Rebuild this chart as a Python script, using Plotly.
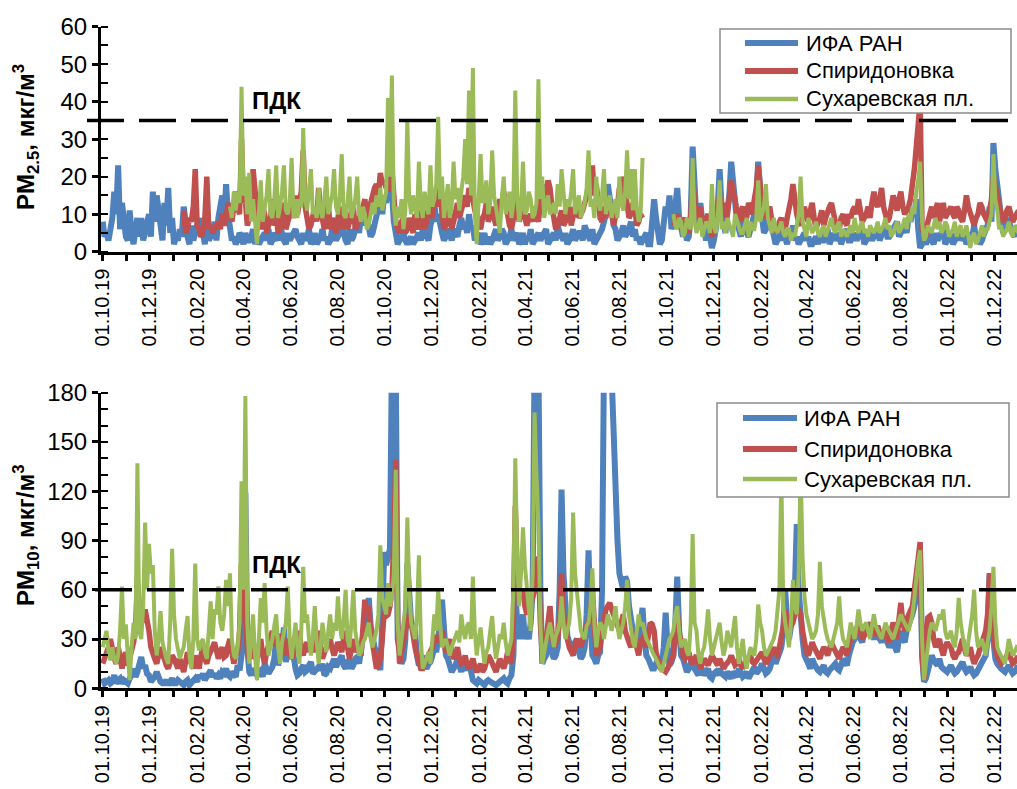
import pandas as pd
import plotly.graph_objects as go

# Observation series: 2.5-day steps starting 01.10.2019
series_start = "2019-10-01"
series_step = "60h"

station_names = ["ИФА РАН", "Спиридоновка", "Сухаревская пл."]
station_colors = ["#4F81BD", "#C0504D", "#9BBB59"]

N = None

# PM2.5, мкг/м3
ifa_pm25 = [
    8, 4, 5, 3, 6, 9, 16, 10, 23, 6, 13, 8, 4, 3, 11, 5, 2, 6, 9, 4,
    9, 3, 5, 7, 10, 4, 16, 8, 15, 11, 6, 3, 13, 7, 17, 5, 9, 2, 4, 3,
    6, 4, 12, 6, 4, 2, 7, 3, 5, 7, 9, 4, 5, 2, 7, 3, 4, 5, 8, 3,
    9, 12, 15, 8, 18, 10, 6, 3, 4, 2, 3, 5, 4, 2, 5, 3, 3, 4, 6, 2,
    4, 2, 3, 4, 5, 3, 6, 2, 3, 5, 4, 3, 7, 4, 3, 2, 5, 3, 4, 5,
    6, 4, 3, 2, 5, 3, 4, 6, 2, 3, 5, 2, 3, 4, 6, 3, 4, 2, 3, 6,
    5, 3, 4, 5, 7, 4, 3, 2, 6, 3, 4, 6, 8, 5, 10, 7, 13, 9, 6, 4,
    5, 7, 9, 12, 14, 10, 15, 13, 17, 14, 16, 8, 4, 2, 3, 4, 5, 3, 2, 3,
    4, 2, 3, 4, 5, 3, 6, 5, 4, 3, 7, 9, 13, 8, 10, 6, 5, 3, 4, 6,
    5, 3, 6, 5, 4, 7, 9, 6, 8, 5, 10, 6, 7, 3, 4, 5, 2, 3, 5, 2,
    4, 2, 3, 5, 6, 3, 4, 6, 5, 2, 3, 4, 6, 3, 4, 5, 2, 3, 5, 2,
    4, 3, 6, 2, 3, 4, 5, 3, 4, 5, 6, 2, 3, 4, 5, 3, 7, 5, 4, 3,
    5, 2, 3, 4, 6, 3, 4, 5, 5, 3, 7, 5, 4, 3, 6, 2, 3, 4, 5, 6,
    8, 10, 18, 14, 12, 7, 6, 3, 4, 5, 7, 4, 5, 6, 8, 4, 6, 3, 4, 2,
    3, 4, 5, 2, 2, 8, 14, 9, 6, 2, 3, 7, 12, 10, 15, 6, 8, 12, 17, 9,
    5, 4, 7, 3, 4, 10, 28, 12, 8, 6, 13, 8, 5, 3, 7, 4, 1, 3, 6, 12,
    22, 12, 8, 5, 11, 15, 24, 17, 13, 8, 6, 4, 9, 6, 5, 4, 7, 8, 10, 14,
    24, 14, 9, 5, 6, 8, 11, 7, 5, 2, 3, 4, 6, 3, 4, 2, 5, 4, 7, 3,
    4, 2, 3, 4, 5, 3, 4, 2, 2, 3, 4, 2, 5, 3, 3, 4, 6, 2, 4, 5,
    3, 4, 5, 2, 4, 5, 6, 3, 3, 4, 5, 3, 4, 5, 6, 2, 3, 4, 5, 3,
    4, 5, 6, 3, 5, 6, 7, 4, 4, 5, 6, 7, 8, 4, 5, 6, 7, 5, 9, 8,
    11, 10, 14, 6, 1, 2, 3, 2, 4, 5, 3, 2, 5, 3, 4, 5, 6, 2, 3, 4,
    5, 2, 3, 4, 6, 3, 4, 5, 2, 3, 5, 4, 7, 3, 4, 2, 3, 5, 6, 7,
    12, 8, 29, 22, 18, 12, 8, 5, 6, 8, 9, 6, 5, 4, 7, 6,
]

spir_pm25 = [
    N, N, N, N, N, N, N, N, N, N, N, N, N, N, N, N, N, N, N, N,
    N, N, N, N, N, N, N, N, N, N, N, N, N, N, N, N, N, N, N, N,
    N, N, 11, 5, 6, 9, 8, 12, 22, 7, 6, 4, 5, 9, 20, 6, 7, 5, 6, 7,
    8, 6, 10, 7, 9, 13, 11, 8, 12, 16, 12, 10, 30, 13, 14, 7, 9, 12, 22, 15,
    11, 8, 6, 12, 10, 5, 7, 9, 14, 7, 9, 5, 6, 13, 11, 6, 8, 10, 12, 9,
    15, 10, 13, 16, 27, 12, 9, 6, 7, 10, 12, 8, 17, 11, 8, 6, 10, 13, 6, 9,
    7, 5, 9, 12, 6, 8, 11, 6, 8, 10, 12, 6, 7, 9, 10, 12, 14, 8, 9, 13,
    16, 17, 18, 15, 21, 18, 19, 17, 20, 16, 22, 12, 8, 6, 5, 8, 9, 5, 6, 9,
    7, 5, 10, 8, 6, 9, 12, 6, 8, 13, 11, 9, 16, 12, 19, 14, 9, 6, 7, 11,
    10, 6, 8, 11, 13, 9, 11, 14, 15, 12, 17, 15, 14, 11, 9, 7, 6, 9, 10, 13,
    8, 10, 12, 9, 7, 11, 14, 12, 16, 13, 9, 7, 6, 9, 11, 14, 8, 10, 13, 9,
    7, 9, 10, 8, 12, 10, 8, 13, 18, 14, 15, 19, 17, 12, 9, 6, 7, 10, 11, 7,
    8, 10, 12, 7, 9, 12, 14, 9, 10, 11, 13, 15, 16, 18, 23, 15, 18, 11, 9, 8,
    12, 9, 15, 13, 11, 7, 9, 12, 17, 14, 20, 16, 14, 9, 10, 13, 12, 7, 8, 10,
    9, N, N, N, N, N, N, N, N, N, N, N, N, N, N, N, 7, 8, 10, 7,
    6, 8, 9, 6, 5, 9, 21, 13, 9, 10, 12, 7, 8, 9, 10, 6, 4, 7, 9, 12,
    15, 11, 13, 9, 10, 14, 19, 16, 14, 10, 8, 11, 12, 8, 9, 13, 11, 10, 14, 17,
    23, 16, 13, 10, 9, 11, 12, 8, 7, 6, 5, 8, 9, 7, 6, 9, 11, 14, 18, 12,
    10, 8, 7, 10, 12, 9, 8, 11, 13, 9, 6, 8, 9, 11, 7, 9, 11, 12, 13, 10,
    8, 7, 6, 9, 10, 8, 7, 10, 9, 11, 12, 10, 14, 11, 8, 9, 10, 12, 9, 13,
    16, 13, 12, 14, 17, 12, 10, 8, 9, 12, 15, 13, 11, 14, 16, 12, 10, 11, 12, 14,
    17, 22, 28, 33, 40, 6, 5, 4, 8, 10, 12, 9, 11, 13, 8, 10, 13, 9, 10, 11,
    12, 10, 9, 12, 11, 9, 8, 11, 15, 12, 10, 8, 7, 9, 10, 13, 12, 10, 9, 8,
    11, 14, 20, 17, 15, 12, 10, 8, 9, 11, 12, 10, 8, 9, 10, 11,
]

such_pm25 = [
    N, N, N, N, N, N, N, N, N, N, N, N, N, N, N, N, N, N, N, N,
    N, N, N, N, N, N, N, N, N, N, N, N, N, N, N, N, N, N, N, N,
    N, N, N, N, N, N, N, N, N, N, N, N, N, N, N, N, N, N, N, N,
    N, N, N, N, N, N, 12, 9, 16, 11, 16, 13, 44, 15, 20, 10, 21, 8, 14, 6,
    2, 10, 19, 8, 12, 15, 22, 10, 9, 14, 23, 9, 12, 16, 23, 11, 10, 13, 25, 9,
    14, 9, 14, 12, 33, 14, 11, 16, 22, 10, 12, 9, 17, 11, 9, 14, 20, 10, 13, 15,
    22, 12, 10, 15, 26, 10, 9, 13, 20, 9, 11, 14, 20, 10, 8, 12, 10, 6, 7, 11,
    13, 10, 15, 12, 17, 11, 14, 16, 41, 20, 47, 12, 7, 12, 9, 14, 6, 11, 35, 14,
    10, 15, 12, 9, 24, 13, 9, 16, 12, 10, 23, 12, 14, 18, 36, 14, 20, 9, 13, 18,
    9, 12, 24, 14, 17, 11, 16, 20, 30, 18, 43, 15, 49, 10, 2, 12, 26, 13, 14, 19,
    10, 13, 27, 15, 12, 9, 5, 14, 20, 10, 12, 16, 9, 13, 43, 15, 8, 12, 24, 10,
    11, 16, 14, 9, 10, 13, 46, 14, 20, 9, 12, 15, 10, 11, 13, 10, 18, 12, 22, 14,
    10, 14, 12, 16, 22, 10, 12, 15, 9, 11, 13, 17, 27, 12, 14, 9, 20, 13, 11, 15,
    22, 10, 12, 15, 9, 12, 14, 9, 20, 13, 11, 16, 27, 14, 22, 11, 22, 12, 8, 10,
    25, N, N, N, N, N, N, N, N, N, N, N, N, N, N, N, 10, 7, 6, 9,
    8, 4, 5, 9, 7, 6, 25, 8, 5, 7, 9, 4, 6, 8, 7, 5, 18, 7, 5, 9,
    19, 6, 8, 5, 9, 7, 6, 4, 10, 8, 7, 5, 5, 7, 9, 4, 8, 6, 6, 9,
    19, 8, 10, 12, 18, 9, 7, 5, 9, 6, 5, 7, 8, 5, 4, 6, 6, 3, 5, 4,
    7, 10, 20, 8, 6, 4, 9, 7, 5, 6, 8, 5, 4, 6, 7, 4, 6, 8, 9, 6,
    5, 7, 8, 4, 6, 5, 4, 6, 7, 5, 9, 6, 5, 7, 8, 5, 6, 4, 7, 6,
    5, 6, 8, 5, 6, 7, 9, 6, 7, 4, 5, 7, 8, 5, 6, 7, 9, 6, 10, 8,
    12, 10, 16, 19, 24, 8, 3, 4, 7, 6, 5, 7, 9, 6, 8, 5, 6, 8, 7, 4,
    5, 6, 8, 4, 6, 7, 4, 5, 7, 3, 1, 4, 5, 2, 3, 5, 7, 4, 6, 6,
    8, 10, 26, 14, 11, 6, 7, 4, 5, 6, 8, 5, 4, 7, 6, 5,
]

# PM10, мкг/м3
ifa_pm10 = [
    6, 3, 4, 5, 3, 4, 8, 3, 5, 6, 3, 5, 4, 3, 6, 8, 12, 7, 10, 14,
    19, 12, 14, 9, 8, 4, 5, 7, 10, 6, 4, 3, 3, 5, 2, 4, 6, 3, 3, 5,
    4, 3, 2, 4, 5, 2, 3, 5, 6, 4, 8, 6, 9, 5, 7, 9, 11, 7, 9, 6,
    8, 6, 10, 9, 12, 8, 7, 10, 9, 7, 14, 11, 20, 30, 119, 25, 10, 8, 12, 9,
    8, 10, 11, 7, 15, 12, 9, 11, 13, 18, 30, 14, 18, 25, 37, 16, 22, 20, 28, 15,
    12, 8, 9, 12, 14, 10, 11, 14, 16, 9, 10, 12, 13, 11, 15, 8, 9, 13, 12, 15,
    18, 13, 15, 17, 20, 14, 12, 16, 17, 12, 14, 18, 19, 15, 22, 28, 40, 32, 55, 38,
    30, 25, 22, 15, 11, 40, 83, 75, 80, 85, 200, 200, 200, 30, 20, 15, 18, 30, 76, 50,
    40, 38, 35, 20, 14, 16, 20, 14, 12, 15, 16, 20, 25, 22, 30, 40, 54, 30, 20, 18,
    15, 10, 12, 14, 18, 12, 10, 16, 14, 11, 16, 8, 5, 4, 3, 5, 4, 3, 2, 4,
    5, 4, 3, 2, 2, 3, 4, 5, 6, 4, 3, 6, 8, 20, 60, 40, 30, 38, 45, 30,
    35, 30, 40, 60, 200, 200, 200, 60, 15, 18, 20, 25, 35, 22, 18, 20, 25, 60, 121, 70,
    40, 32, 28, 25, 22, 28, 30, 22, 18, 20, 25, 45, 84, 40, 20, 18, 15, 20, 22, 60,
    200, 200, 200, 200, 190, 150, 124, 90, 70, 65, 60, 68, 65, 50, 40, 35, 30, 28, 25, 38,
    49, 30, 20, 18, 15, 12, 12, 15, 18, 14, 15, 25, 46, 25, 14, 16, 20, 40, 68, 35,
    20, 18, 15, 10, 12, 15, 18, 12, 10, 8, 14, 11, 8, 10, 12, 7, 6, 9, 10, 8,
    12, 9, 8, 7, 10, 8, 6, 10, 9, 7, 12, 9, 7, 8, 10, 6, 8, 11, 13, 9,
    10, 12, 15, 11, 9, 10, 12, 16, 20, 15, 18, 22, 25, 35, 60, 40, 30, 38, 45, 60,
    100, 60, 40, 30, 20, 18, 15, 12, 18, 15, 12, 11, 10, 12, 14, 10, 9, 11, 12, 13,
    15, 12, 11, 14, 18, 16, 14, 20, 25, 28, 30, 32, 35, 30, 28, 35, 33, 36, 38, 33,
    30, 33, 36, 30, 28, 32, 34, 28, 25, 27, 30, 25, 22, 30, 35, 30, 28, 35, 40, 42,
    45, 50, 55, 65, 80, 20, 4, 6, 12, 16, 20, 17, 15, 14, 18, 13, 12, 11, 10, 12,
    14, 11, 9, 10, 12, 14, 16, 12, 10, 11, 13, 10, 8, 9, 11, 13, 15, 17, 20, 30,
    70, 40, 25, 18, 15, 13, 12, 11, 10, 12, 14, 11, 9, 10, 12, 11,
]

spir_pm10 = [
    15, 18, 20, 25, 30, 22, 18, 15, 25, 20, 12, 18, 22, 14, 18, 24, 28, 35, 65, 50,
    45, 40, 48, 42, 35, 25, 20, 18, 15, 22, 25, 20, 18, 14, 12, 16, 20, 18, 15, 12,
    18, 14, 10, 16, 22, 18, 14, 12, 20, 16, 12, 20, 25, 18, 15, 20, 22, 25, 28, 22,
    18, 22, 25, 19, 20, 26, 30, 22, 15, 20, 22, 35, 76, 50, 45, 25, 18, 22, 25, 18,
    20, 25, 30, 20, 15, 22, 25, 30, 35, 26, 28, 30, 33, 24, 20, 27, 30, 22, 18, 21,
    25, 30, 35, 24, 20, 25, 28, 22, 30, 26, 22, 30, 35, 25, 18, 22, 25, 28, 30, 24,
    20, 24, 28, 26, 22, 30, 35, 25, 18, 24, 30, 22, 25, 28, 20, 35, 54, 45, 50, 35,
    25, 18, 12, 14, 18, 30, 47, 44, 45, 50, 60, 90, 139, 40, 15, 22, 30, 35, 40, 45,
    40, 30, 25, 20, 15, 12, 12, 16, 18, 20, 22, 25, 30, 32, 28, 30, 35, 28, 22, 26,
    30, 22, 18, 20, 25, 18, 15, 16, 20, 14, 12, 15, 18, 13, 10, 12, 15, 10, 12, 16,
    20, 18, 15, 12, 10, 14, 18, 15, 12, 16, 22, 18, 15, 40, 111, 70, 55, 58, 60, 50,
    45, 48, 50, 55, 60, 75, 80, 40, 20, 25, 30, 40, 50, 35, 25, 28, 30, 45, 70, 45,
    35, 30, 25, 22, 20, 26, 30, 28, 25, 30, 35, 38, 40, 45, 60, 35, 20, 22, 25, 35,
    45, 48, 50, 52, 48, 45, 40, 38, 35, 40, 45, 35, 30, 28, 25, 30, 35, 25, 20, 28,
    30, 28, 25, 32, 40, 39, 35, 22, 15, 13, 12, 11, 10, 12, 15, 18, 20, 35, 46, 35,
    25, 20, 18, 20, 22, 17, 15, 18, 20, 16, 12, 15, 18, 16, 14, 17, 20, 18, 16, 14,
    18, 15, 12, 14, 15, 17, 20, 16, 14, 15, 18, 14, 12, 15, 16, 18, 20, 16, 15, 17,
    18, 20, 22, 18, 15, 17, 20, 22, 25, 21, 20, 25, 30, 38, 48, 42, 35, 38, 40, 45,
    50, 48, 45, 35, 25, 22, 20, 24, 28, 25, 22, 20, 18, 22, 25, 23, 20, 24, 28, 25,
    22, 20, 18, 22, 25, 23, 20, 26, 30, 33, 35, 36, 38, 33, 30, 32, 35, 38, 40, 36,
    32, 35, 38, 34, 30, 33, 35, 30, 28, 35, 40, 36, 30, 42, 52, 40, 35, 42, 45, 48,
    50, 60, 70, 80, 89, 20, 5, 30, 43, 44, 40, 30, 25, 28, 30, 24, 20, 25, 28, 26,
    25, 20, 18, 21, 22, 26, 30, 24, 20, 22, 25, 19, 15, 18, 20, 24, 28, 30, 35, 45,
    70, 40, 30, 24, 20, 17, 15, 16, 18, 20, 22, 18, 15, 16, 18, 17,
]

such_pm10 = [
    25, 30, 35, 22, 17, 25, 18, 15, 20, 35, 62, 30, 39, 20, 5, 25, 40, 30, 137, 35,
    30, 50, 101, 60, 88, 70, 75, 35, 20, 30, 47, 28, 22, 18, 15, 40, 85, 45, 30, 22,
    18, 22, 25, 35, 44, 20, 12, 30, 76, 30, 23, 28, 30, 22, 18, 35, 53, 30, 48, 45,
    62, 40, 35, 45, 66, 50, 70, 30, 20, 18, 25, 40, 126, 60, 178, 40, 15, 30, 45, 20,
    5, 30, 55, 40, 64, 35, 20, 25, 30, 38, 45, 25, 15, 28, 35, 40, 62, 30, 18, 28,
    40, 25, 15, 35, 74, 40, 45, 30, 20, 32, 50, 28, 15, 25, 40, 30, 22, 35, 45, 30,
    40, 35, 56, 38, 30, 42, 60, 30, 25, 40, 60, 35, 28, 20, 22, 28, 30, 35, 40, 30,
    25, 30, 35, 45, 87, 55, 50, 45, 64, 50, 55, 70, 133, 40, 20, 30, 40, 50, 104, 60,
    40, 35, 30, 45, 81, 30, 12, 15, 18, 22, 15, 30, 45, 35, 60, 40, 25, 28, 30, 25,
    20, 25, 28, 32, 35, 28, 45, 35, 30, 38, 40, 30, 68, 35, 20, 30, 37, 25, 15, 22,
    25, 35, 44, 28, 18, 25, 33, 30, 40, 28, 20, 25, 30, 60, 140, 80, 50, 70, 98, 75,
    60, 45, 35, 70, 168, 130, 100, 40, 15, 22, 30, 35, 40, 30, 25, 32, 35, 40, 56, 40,
    30, 35, 40, 55, 107, 70, 60, 45, 35, 32, 30, 38, 40, 50, 73, 40, 25, 35, 40, 38,
    30, 38, 45, 40, 35, 42, 50, 38, 30, 35, 40, 50, 66, 45, 35, 28, 25, 35, 45, 38,
    40, 35, 30, 28, 25, 22, 20, 18, 15, 12, 10, 15, 20, 25, 30, 32, 35, 45, 50, 35,
    25, 28, 30, 22, 20, 40, 94, 40, 35, 20, 15, 22, 25, 35, 48, 30, 20, 25, 30, 35,
    40, 28, 20, 25, 35, 30, 25, 35, 44, 25, 15, 22, 30, 18, 12, 20, 25, 22, 20, 30,
    51, 40, 35, 25, 20, 22, 25, 28, 30, 35, 45, 60, 130, 50, 40, 30, 25, 40, 66, 50,
    45, 70, 135, 80, 56, 45, 40, 35, 30, 32, 35, 45, 77, 50, 40, 35, 30, 28, 25, 30,
    35, 40, 56, 38, 30, 28, 25, 32, 40, 35, 30, 38, 48, 40, 35, 38, 40, 35, 30, 38,
    45, 38, 35, 33, 30, 35, 40, 37, 35, 32, 30, 34, 38, 40, 45, 42, 40, 38, 35, 40,
    45, 55, 69, 78, 84, 30, 5, 15, 30, 35, 40, 38, 35, 40, 45, 42, 48, 35, 30, 32,
    35, 28, 25, 35, 55, 40, 30, 25, 20, 28, 35, 45, 60, 35, 25, 28, 30, 25, 20, 28,
    35, 50, 74, 40, 25, 22, 20, 18, 15, 22, 30, 25, 20, 22, 25, 24,
]

# Limit values (ПДК)
pdk_pm25 = 35
pdk_pm10 = 60

# Date tick labels (every second month)
tick_labels = [
    "01.10.19", "01.12.19", "01.02.20", "01.04.20", "01.06.20", "01.08.20",
    "01.10.20", "01.12.20", "01.02.21", "01.04.21", "01.06.21", "01.08.21",
    "01.10.21", "01.12.21", "01.02.22", "01.04.22", "01.06.22", "01.08.22",
    "01.10.22", "01.12.22",
]

label_ticks = pd.date_range("2019-10-01", periods=len(tick_labels), freq="2MS")
month_ticks = pd.date_range("2019-10-01", "2022-12-01", freq="MS")

W, H = 1017, 789
FONT = "Liberation Sans, Arial, sans-serif"


def px_x(v):
    return v / W


def px_y(v):
    return 1 - v / H


fig = go.Figure()

widths = [6, 5.5, 4]
panels = [
    ("x", "y", [ifa_pm25, spir_pm25, such_pm25]),
    ("x2", "y2", [ifa_pm10, spir_pm10, such_pm10]),
]
for xa, ya, group in panels:
    for name, color, w, vals in zip(station_names, station_colors, widths, group):
        dates = pd.date_range(series_start, periods=len(vals), freq=series_step)
        fig.add_trace(go.Scatter(
            x=dates, y=vals, mode="lines", name=name,
            line=dict(color=color, width=w),
            xaxis=xa, yaxis=ya, showlegend=False, hoverinfo="skip",
        ))

x_range = ["2019-09-28 19:00", "2022-12-29 14:00"]
x_domain = [px_x(101), 1.0]

xaxis_style = dict(
    type="date", range=x_range, domain=x_domain, automargin=False,
    showline=True, linecolor="black", linewidth=3,
    ticks="outside", ticklen=6, tickwidth=2.5, tickcolor="black",
    tickmode="array", tickvals=label_ticks, ticktext=tick_labels,
    tickangle=-90, tickfont=dict(family=FONT, size=20, color="black"),
    minor=dict(ticks="outside", ticklen=6, tickwidth=2.5, tickcolor="black",
               tickmode="array", tickvals=month_ticks),
    showgrid=False, zeroline=False,
)

yaxis_style = dict(
    automargin=False,
    showline=True, linecolor="black", linewidth=3,
    ticks="outside", ticklen=6, tickwidth=2.5, tickcolor="black",
    tickfont=dict(family=FONT, size=24, color="black"),
    showgrid=False, zeroline=False,
)

fig.update_layout(
    width=W, height=H,
    margin=dict(l=0, r=0, t=0, b=0, autoexpand=False),
    paper_bgcolor="white", plot_bgcolor="white",
    showlegend=False,
    font=dict(family=FONT, color="black"),
    xaxis=dict(anchor="y", **xaxis_style),
    xaxis2=dict(anchor="y2", **xaxis_style),
    yaxis=dict(anchor="x", range=[0, 60], dtick=10,
               domain=[px_y(251.7), px_y(26.7)],
               minor=dict(ticks="inside", ticklen=7, tickwidth=2, tickcolor="black", dtick=5),
               **yaxis_style),
    yaxis2=dict(anchor="x2", range=[0, 180], dtick=30,
                domain=[px_y(688.3), px_y(392.7)],
                minor=dict(ticks="inside", ticklen=7, tickwidth=2, tickcolor="black", dtick=10),
                **yaxis_style),
)

shapes = []
annotations = []

# ПДК lines
for yref, val, x0px, label_y in [("y", pdk_pm25, 87, 101), ("y2", pdk_pm10, 95, 564)]:
    shapes.append(dict(type="line", xref="paper", yref=yref,
                       x0=px_x(x0px), x1=1.0, y0=val, y1=val,
                       line=dict(color="black", width=3.5, dash="37px,15px"),
                       layer="above"))
    annotations.append(dict(text="<b>ПДК</b>", xref="paper", yref="paper",
                            x=px_x(276), y=px_y(label_y), showarrow=False,
                            xanchor="center", yanchor="middle",
                            font=dict(family=FONT, size=24, color="black")))

# Axis titles
for title, cy in [("<b>PM<sub>2.5</sub>, мкг/м<sup>3</sup></b>", 137),
                  ("<b>PM<sub>10</sub>, мкг/м<sup>3</sup></b>", 535)]:
    annotations.append(dict(text=title, xref="paper", yref="paper",
                            x=px_x(26), y=px_y(cy), showarrow=False,
                            textangle=-90, xanchor="center", yanchor="middle",
                            font=dict(family=FONT, size=24, color="black")))

# Legends (one per panel)
legend_boxes = [
    dict(x0=720, x1=1011, y0=29, y1=113, rows=[43, 71, 99], lx0=745, lx1=798, tx=804),
    dict(x0=717, x1=1009, y0=403, y1=497, rows=[418, 449, 479], lx0=743, lx1=797, tx=802),
]
for box in legend_boxes:
    shapes.append(dict(type="rect", xref="paper", yref="paper",
                       x0=px_x(box["x0"]), x1=px_x(box["x1"]),
                       y0=px_y(box["y1"]), y1=px_y(box["y0"]),
                       line=dict(color="#8c8c8c", width=1.5),
                       fillcolor="white", layer="above"))
    for name, color, w, ry in zip(station_names, station_colors, [6, 6, 4.5], box["rows"]):
        shapes.append(dict(type="line", xref="paper", yref="paper",
                           x0=px_x(box["lx0"]), x1=px_x(box["lx1"]),
                           y0=px_y(ry), y1=px_y(ry),
                           line=dict(color=color, width=w), layer="above"))
        annotations.append(dict(text=name, xref="paper", yref="paper",
                                x=px_x(box["tx"]), y=px_y(ry), showarrow=False,
                                xanchor="left", yanchor="middle",
                                font=dict(family=FONT, size=22, color="black")))

fig.update_layout(shapes=shapes, annotations=annotations)

fig.write_html("out.html")
